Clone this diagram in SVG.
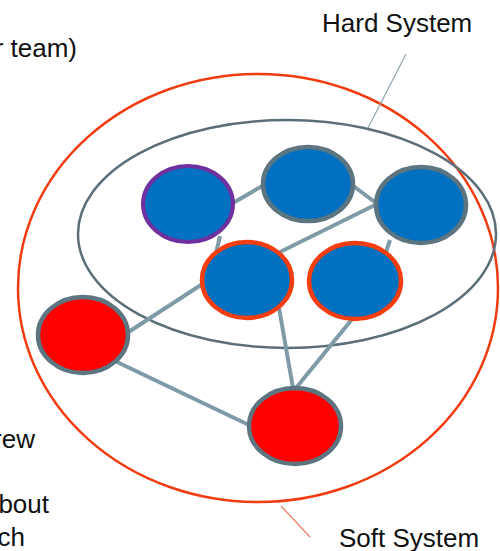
<svg xmlns="http://www.w3.org/2000/svg" width="500" height="551" viewBox="0 0 500 551">
<style>
text{font-family:"Liberation Sans",Arial,sans-serif;font-size:26px;fill:#111}
.soft{fill:none;stroke:#f23c10;stroke-width:2.5}
.hard{fill:none;stroke:#5c6f79;stroke-width:2.5}
.edge{stroke:#7f9ba7;stroke-width:4;fill:none}
.blue{fill:#0070c0}
.redn{fill:#ff0000}
.g{stroke:#5d7581;stroke-width:4.5}
.o{stroke:#f53e10;stroke-width:4.5}
.p{stroke:#7030a0;stroke-width:4}
</style>
<g id="boundaries">
<ellipse class="soft" cx="258" cy="288" rx="240" ry="214"/>
<ellipse class="hard" cx="287" cy="234" rx="209" ry="114"/>
</g>
<g id="labels">
<text x="77" y="57" text-anchor="end">r team)</text>
<text x="322" y="32">Hard System</text>
<line x1="406" y1="54" x2="368" y2="128" stroke="#8fa3ad" stroke-width="1.2"/>
<text x="35" y="448" text-anchor="end">rew</text>
<text x="49" y="513" text-anchor="end">bout</text>
<text x="25" y="546" text-anchor="end">ch</text>
<text x="339" y="547">Soft System</text>
<line x1="310" y1="537" x2="281" y2="506" stroke="#f07a5e" stroke-width="1.2"/>
</g>
<g id="connectors">
<line class="edge" x1="233" y1="203" x2="264" y2="185"/>
<line class="edge" x1="220" y1="236" x2="214" y2="262"/>
<line class="edge" x1="352" y1="185" x2="376" y2="203"/>
<line class="edge" x1="280" y1="252" x2="377" y2="204"/>
<line class="edge" x1="390" y1="240" x2="386" y2="252"/>
<line class="edge" x1="127" y1="333" x2="204" y2="283"/>
<line class="edge" x1="117" y1="362" x2="249" y2="425"/>
<line class="edge" x1="279" y1="308" x2="293" y2="388"/>
<line class="edge" x1="353" y1="318" x2="296" y2="388"/>
</g>
<g id="n1"><ellipse class="blue p" cx="188" cy="204" rx="45" ry="38"/></g>
<g id="n2"><ellipse class="blue g" cx="308" cy="184" rx="45" ry="37"/></g>
<g id="n3"><ellipse class="blue g" cx="421" cy="205" rx="45" ry="38"/></g>
<g id="n4"><ellipse class="blue o" cx="247" cy="280" rx="45" ry="38"/></g>
<g id="n5"><ellipse class="blue o" cx="355" cy="281" rx="46" ry="38"/></g>
<g id="n6"><ellipse class="redn g" cx="83" cy="335" rx="45" ry="38"/></g>
<g id="n7"><ellipse class="redn g" cx="295" cy="426" rx="46" ry="38"/></g>
</svg>
